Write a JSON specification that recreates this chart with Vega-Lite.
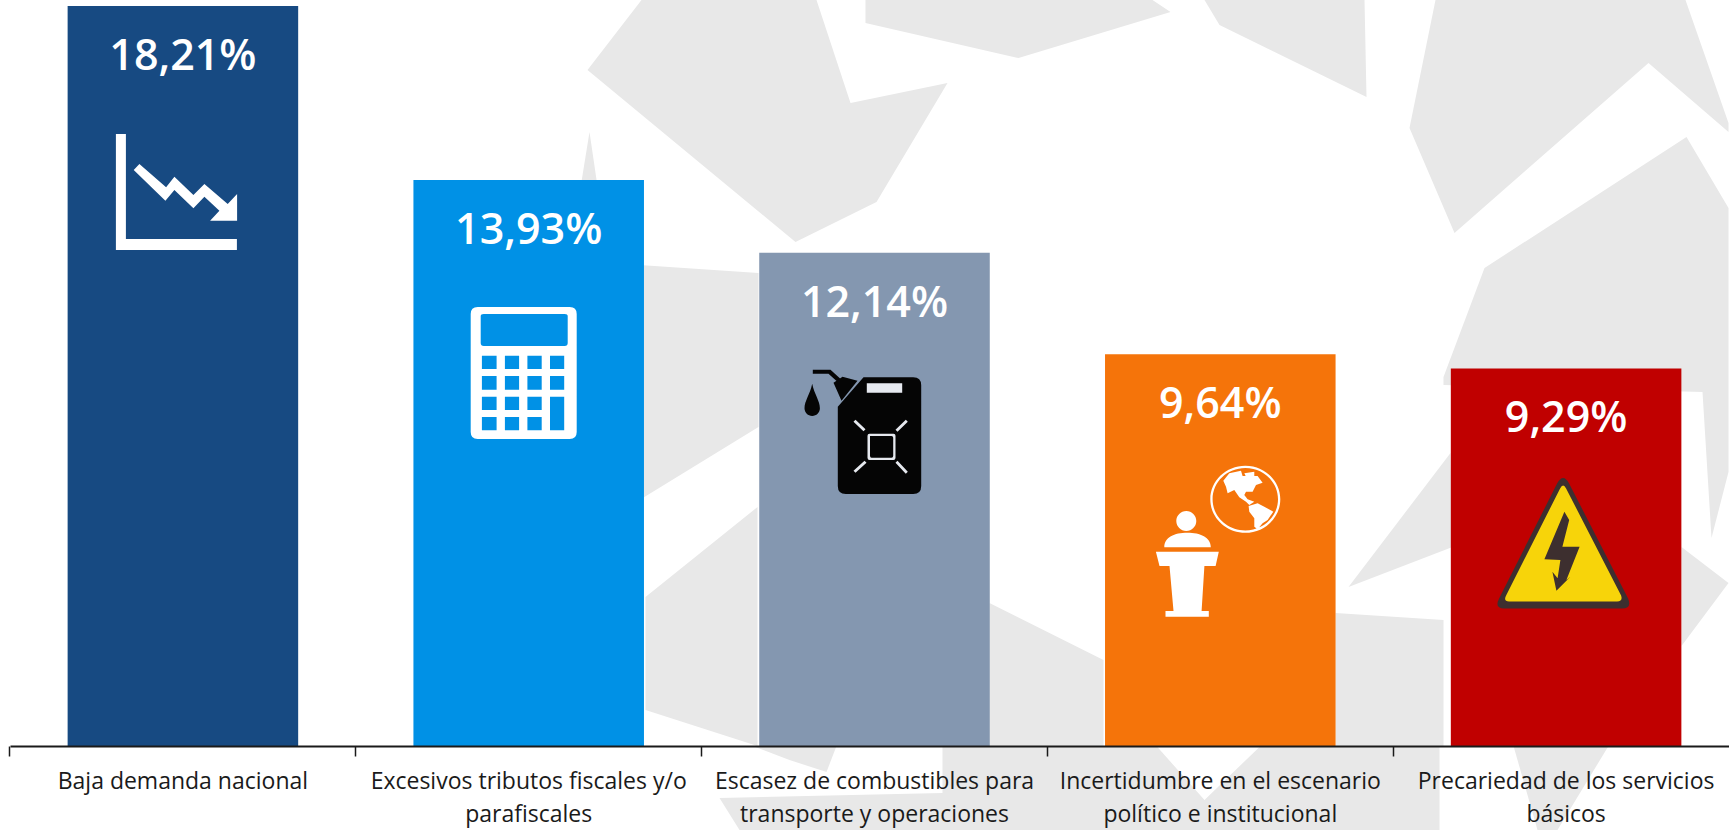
{
"$schema":"https://vega.github.io/schema/vega-lite/v6.json",
"width":1729,"height":740,"autosize":{"type":"none"},
"padding":{"left":10,"top":6,"right":0,"bottom":84},
"background":"white",
"view":{"stroke":null},
"data":{"values":[
{"categoria":"Baja demanda nacional","valor":18.21,"etiqueta":"18,21%"},
{"categoria":"Excesivos tributos fiscales y/o parafiscales","valor":13.93,"etiqueta":"13,93%"},
{"categoria":"Escasez de combustibles para transporte y operaciones","valor":12.14,"etiqueta":"12,14%"},
{"categoria":"Incertidumbre en el escenario político e institucional","valor":9.64,"etiqueta":"9,64%"},
{"categoria":"Precariedad de los servicios básicos","valor":9.29,"etiqueta":"9,29%"}
]},
"encoding":{
"x":{"field":"categoria","type":"nominal","sort":null,
"scale":{"domain":["Baja demanda nacional","Excesivos tributos fiscales y/o parafiscales","Escasez de combustibles para transporte y operaciones","Incertidumbre en el escenario político e institucional","Precariedad de los servicios básicos"],"paddingInner":0.3333,"paddingOuter":0.16665},
"axis":{"title":null,"zindex":1,"bandPosition":-0.25,"labelAngle":0,"labelFont":"Open Sans","labelFontSize":23,"labelColor":"#1a1a1a","labelPadding":14,"labelLineHeight":33,"labelLimit":500,"labelOverlap":false,"tickSize":10,"tickWidth":1.5,"tickColor":"#1a1a1a","domainColor":"#1a1a1a","domainWidth":2,
"labelExpr":"split(replace(replace(replace(replace(datum.label,'y/o ','y/o|'),'para ','para|'),'escenario ','escenario|'),'servicios ','servicios|'),'|')"}},
"y":{"field":"valor","type":"quantitative","stack":null,"scale":{"domain":[0,18.21],"nice":false},"axis":null}
},
"layer":[
{"transform":[{"filter":"datum.valor==12.14"}],
"mark":{"type":"point","filled":true,"opacity":1,"size":4,"color":"#e8e8e8","shape":"M-233 -746L-287 -676L-79 -504L2 -544L73 -663L-24 -643L-58 -746ZM-9 -746L-9 -723L144 -688L296 -734L278 -746ZM330 -746L345 -721L492 -649L490 -746ZM561 -746L535 -618L580 -513L774 -683L854 -614L854 -623L811 -746ZM812 -609L610 -478L569 -369L569 -361L828 -354L837 -208L854 -274L854 -538ZM576 -293L474 -159L578 -199ZM807 -199L854 -163L807 -100ZM-235 -481L-116 -473L-116 -319L-235 -246ZM-285 -614L-296 -546L-275 -546ZM-229 -149L-117 -239L-117 0L-229 -36ZM115 -143L229 -86L229 0L115 0ZM461 -133L569 -126L569 0L461 0ZM-122 0L-38 0L-48 26L-85 14ZM68 0L282 0L330 54L386 0L565 0L565 84L-135 84L-155 52L68 47ZM639 0L734 0L683 84L663 84Z"},
"encoding":{"y":{"datum":0,"type":"quantitative"}}},
{"mark":{"type":"bar"},
"encoding":{
"color":{"field":"etiqueta","type":"nominal","legend":null,"scale":{"domain":["18,21%","13,93%","12,14%","9,64%","9,29%"],"range":["#174a82","#0091e6","#8497b0","#f5740a","#c00000"]}}
}},
{"mark":{"type":"text","color":"white","font":"Open Sans","fontSize":43,"fontWeight":600,"baseline":"alphabetic","dy":64},
"encoding":{"text":{"field":"etiqueta"}}},
{"transform":[{"filter":"datum.valor==18.21"}],
"mark":{"type":"point","filled":true,"opacity":1,"size":4,"color":"white","shape":"M-67 128H-57V233H54V244H-67ZM-49.2 164L-43.5 158L-16.8 181.3L-8.5 170.7L10.5 189L21.5 178L44.8 198L54.2 188L54.2 214.7L27.2 214.7L36.5 204.7L21.5 190.7L10.5 202.3L-8.5 184L-17.5 194.7Z"}},
{"transform":[{"filter":"datum.valor==13.93"}],
"mark":{"type":"point","filled":true,"opacity":1,"size":4,"color":"white","shape":"M-51 127H41Q48 127 48 134V252Q48 259 41 259H-51Q-58 259 -58 252V134Q-58 127 -51 127ZM-48 136V163Q-48 166 -45 166H36Q39 166 39 163V136Q39 134 36 134H-45Q-48 134 -48 136ZM-46.8 175.7V189H-32.1V175.7ZM-23.8 175.7V189H-9.6V175.7ZM-1.3 175.7V189H13V175.7ZM21.3 175.7V189H35.5V175.7ZM-46.8 196V209.7H-32.1V196ZM-23.8 196V209.7H-9.6V196ZM-1.3 196V209.7H13V196ZM21.3 196V209.7H35.5V196ZM-46.8 216.7V230H-32.1V216.7ZM-23.8 216.7V230H-9.6V216.7ZM-1.3 216.7V230H13V216.7ZM21.3 216.7V250.3H35.5V216.7ZM-46.8 237V250.3H-32.1V237ZM-23.8 237V250.3H-9.6V237ZM-1.3 237V250.3H13V237Z"}},
{"transform":[{"filter":"datum.valor==12.14"}],
"mark":{"type":"point","filled":true,"opacity":1,"size":4,"color":"#050505","shape":"M-11 124.6H38.7Q46.7 124.6 46.7 132.6V233.3Q46.7 241.3 38.7 241.3H-28.7Q-36.7 241.3 -36.7 233.3V154ZM-41 130L-32 124L-17 128L-33 148ZM-61.7 117H-44L-33 127L-36 130L-46 121H-61.7ZM-62.3 131C-60 142 -54.6 148 -54.6 155.6A7.7 7.7 0 0 1 -70 155.6C-70 148 -64.6 142 -62.3 131Z"}},
{"transform":[{"filter":"datum.valor==12.14"}],
"mark":{"type":"point","filled":true,"opacity":1,"size":4,"color":"#e6e9ef","shape":"M-7.7 130.6H27.7V140H-7.7ZM-5 181H19Q21 181 21 183V205Q21 207.3 19 207.3H-5Q-7 207.3 -7 205V183Q-7 181 -5 181ZM-4.5 183.3V203Q-4.5 205 -3 205H17Q18.7 205 18.7 203V185Q18.7 183.3 17 183.3ZM-21 169L-19 167L-9 176.5L-11 178.5ZM33.3 169L31.3 167L21 177L23 179ZM-21 218L-19 220L-8 210L-10 208ZM33.3 219L31.3 221L21 210L23 208Z"}},
{"transform":[{"filter":"datum.valor==9.64"}],
"mark":{"type":"point","filled":true,"opacity":1,"size":4,"color":"white","shape":"M-44 166.7A10 10 0 1 1 -24 166.7A10 10 0 1 1 -44 166.7ZM-56 193C-56 183 -46 178.5 -33 178.5C-20 178.5 -9.5 183 -9.5 193ZM-64.4 197.4H-1.5L-4.7 211.7H-15.9L-18.7 256.7H-11.5V262.4H-54.8V256.7H-46.8L-50.8 211.7H-60.8ZM-10 145A35 33.5 0 1 1 60 145A35 33.5 0 1 1 -10 145ZM-7.7 145A32.7 31.2 0 1 0 57.7 145A32.7 31.2 0 1 0 -7.7 145ZM3 126.4L9 119L20.7 116.4L22.3 121.7L37.3 121.7L42.3 128.4L35.7 130.7L32.3 137.4L25.7 137.4L24 140.7L27.3 145L34 147.4L29 150.7L25.7 147.4L19 143L14 135.7L7.3 139L5.7 132.4ZM24 119L34 117.4L34 122.4L25.7 122.4ZM28.3 151.7L37.3 149L44 152.4L53 157.4L47.3 165.7L42.3 169L37.3 175L34 172.4L34 164L29 157.4Z"}},
{"transform":[{"filter":"datum.valor==9.29"}],
"mark":{"type":"point","filled":true,"opacity":1,"size":4,"color":"#3d2f2f","shape":"M-9 115Q-3 104 3 115L62 230Q66 240 56 240H-62Q-72 240 -67 230Z"}},
{"transform":[{"filter":"datum.valor==9.29"}],
"mark":{"type":"point","filled":true,"opacity":1,"size":4,"color":"#f7d40a","shape":"M-6 120Q-3 114 0 120L55 227Q57 233 51 233H-57Q-63 233 -60 227Z"}},
{"transform":[{"filter":"datum.valor==9.29"}],
"mark":{"type":"point","filled":true,"opacity":1,"size":4,"color":"#3d2f2f","shape":"M-1.7 143.2L3.1 151.5L-3.7 178.2L13.5 178.2L0.3 211.5L4.3 208.2L-9.7 222.2L-13.7 203.2L-8.5 209.8L-5.7 191.5L-21.7 190.8Z"}}
]
}
